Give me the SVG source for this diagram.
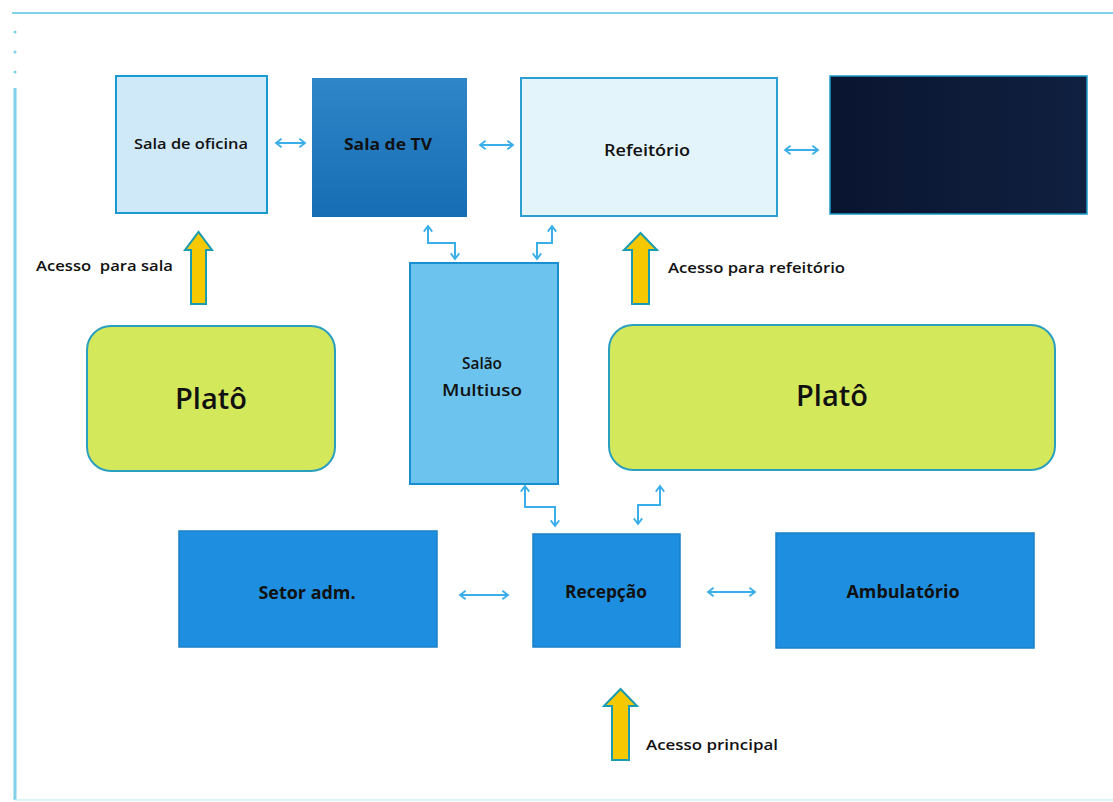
<svg xmlns="http://www.w3.org/2000/svg" width="1113" height="802" viewBox="0 0 1113 802">
<defs>
<marker id="ah" viewBox="0 0 10 10" refX="8" refY="5" markerWidth="7" markerHeight="7" orient="auto-start-reverse" markerUnits="userSpaceOnUse" overflow="visible">
<path d="M0,-1 L8,5 L0,11" fill="none" stroke="#3aaee8" stroke-width="2.6"/>
</marker>
<linearGradient id="tv" x1="0" y1="0" x2="0" y2="1">
<stop offset="0" stop-color="#2f86c8"/>
<stop offset="1" stop-color="#176db3"/>
</linearGradient>
<linearGradient id="dk" x1="0" y1="0" x2="1" y2="0">
<stop offset="0" stop-color="#0a1530"/>
<stop offset="1" stop-color="#102040"/>
</linearGradient>
</defs>
<style>
.t{font-family:"Open Sans","Liberation Sans",sans-serif;fill:#111;text-anchor:middle;font-weight:600;}
.b{font-weight:bold;}
.lbl{font-family:"Open Sans","Liberation Sans",sans-serif;fill:#111;font-size:15px;font-weight:600;}
.con{fill:none;stroke:#3aaee8;stroke-width:2;marker-start:url(#ah);marker-end:url(#ah);}
.yel{fill:#f5c800;stroke:#1a9bb0;stroke-width:2;}
</style>
<rect width="1113" height="802" fill="#ffffff"/>
<g id="frame" stroke="#7fd0e8" fill="none">
<line x1="12" y1="13" x2="1113" y2="13" stroke-width="2"/>
<line x1="15" y1="88" x2="15" y2="800" stroke-width="3"/>
<line x1="15" y1="800" x2="1113" y2="800" stroke-width="1.5" stroke="#cfeef6"/>
<circle cx="15" cy="32" r="1.5" fill="#7fd0e8" stroke="none"/>
<circle cx="15" cy="52" r="1.5" fill="#7fd0e8" stroke="none"/>
<circle cx="15" cy="72" r="1.5" fill="#7fd0e8" stroke="none"/>
</g>
<g id="sala-oficina">
<rect x="116" y="76" width="151" height="137" fill="#cfe9f8" stroke="#1a9bd0" stroke-width="2"/>
<text class="t" x="191" y="149" font-size="15" textLength="114" lengthAdjust="spacingAndGlyphs">Sala de oficina</text>
</g>
<g id="sala-tv">
<rect x="312" y="78" width="155" height="139" fill="url(#tv)"/>
<text class="t b" x="388" y="150" font-size="16" textLength="88" lengthAdjust="spacingAndGlyphs">Sala de TV</text>
</g>
<g id="refeitorio">
<rect x="521" y="78" width="256" height="138" fill="#e3f4fb" stroke="#2a9fd0" stroke-width="2"/>
<text class="t" x="647" y="156" font-size="17" textLength="86" lengthAdjust="spacingAndGlyphs">Refeitório</text>
</g>
<g id="dark-box">
<rect x="830" y="76" width="257" height="138" fill="url(#dk)" stroke="#1a9bc8" stroke-width="1.5"/>
</g>
<g id="salao-multiuso">
<rect x="410" y="263" width="148" height="221" fill="#6cc4ee" stroke="#1a8fcf" stroke-width="2"/>
<text class="t" x="482" y="369" font-size="16" textLength="40" lengthAdjust="spacingAndGlyphs">Salão</text>
<text class="t" x="482" y="396" font-size="16" textLength="80" lengthAdjust="spacingAndGlyphs">Multiuso</text>
</g>
<g id="plato-left">
<rect x="87" y="326" width="248" height="145" rx="24" fill="#d4e85c" stroke="#2a9fc0" stroke-width="2"/>
<text class="t" x="211" y="409" font-size="29" font-weight="500">Platô</text>
</g>
<g id="plato-right">
<rect x="609" y="325" width="446" height="145" rx="24" fill="#d4e85c" stroke="#2a9fc0" stroke-width="2"/>
<text class="t" x="832" y="406" font-size="29" font-weight="500">Platô</text>
</g>
<g id="setor-adm">
<rect x="179" y="531" width="258" height="116" fill="#1e8fe0" stroke="#1a80c8" stroke-width="1.5"/>
<text class="t b" x="307" y="599" font-size="17" textLength="97" lengthAdjust="spacingAndGlyphs">Setor adm.</text>
</g>
<g id="recepcao">
<rect x="533" y="534" width="147" height="113" fill="#1e8fe0" stroke="#1a80c8" stroke-width="1.5"/>
<text class="t b" x="606" y="598" font-size="17" textLength="82" lengthAdjust="spacingAndGlyphs">Recepção</text>
</g>
<g id="ambulatorio">
<rect x="776" y="533" width="258" height="115" fill="#1e8fe0" stroke="#1a80c8" stroke-width="1.5"/>
<text class="t b" x="903" y="598" font-size="17" textLength="113" lengthAdjust="spacingAndGlyphs">Ambulatório</text>
</g>
<g id="acesso-sala">
<path class="yel" d="M191,304 L191,250 L185,250 L198.5,232 L212,250 L206,250 L206,304 Z"/>
<text class="lbl" x="36" y="271" textLength="137" lengthAdjust="spacingAndGlyphs" xml:space="preserve">Acesso  para sala</text>
</g>
<g id="acesso-refeitorio">
<path class="yel" d="M632,304 L632,250 L624,250 L640.5,233 L657,250 L649,250 L649,304 Z"/>
<text class="lbl" x="668" y="273" textLength="177" lengthAdjust="spacingAndGlyphs">Acesso para refeitório</text>
</g>
<g id="acesso-principal">
<path class="yel" d="M612,760 L612,706 L604,706 L620.5,689 L637,706 L629,706 L629,760 Z"/>
<text class="lbl" x="646" y="750" textLength="132" lengthAdjust="spacingAndGlyphs">Acesso principal</text>
</g>
<g id="connectors">
<line class="con" x1="276" y1="143" x2="305" y2="143"/>
<line class="con" x1="480" y1="145" x2="513" y2="145"/>
<line class="con" x1="785" y1="150" x2="818" y2="150"/>
<line class="con" x1="460" y1="595" x2="508" y2="595"/>
<line class="con" x1="708" y1="592" x2="755" y2="592"/>
<path class="con" d="M428,226 L428,243 L455,243 L455,259"/>
<path class="con" d="M552,226 L552,243 L537,243 L537,259"/>
<path class="con" d="M525,486 L525,507 L555,507 L555,526"/>
<path class="con" d="M660,486 L660,505 L638,505 L638,524"/>
</g>
</svg>
